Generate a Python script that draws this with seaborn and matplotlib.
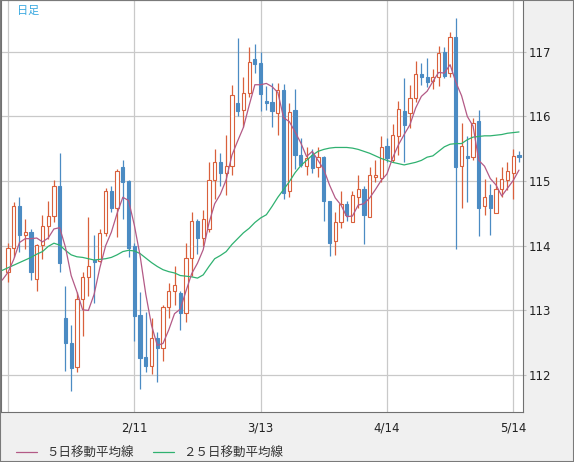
import matplotlib.pyplot as plt
import numpy as np
import pandas as pd
import seaborn as sns
from matplotlib.lines import Line2D
from matplotlib.patches import Rectangle

# daily candles, oldest first (prices)
opens = [113.60, 113.97, 114.62, 114.16, 114.22, 113.49, 114.01, 114.30, 114.46, 114.92,
         112.88, 112.50, 112.13, 113.18, 113.52, 113.78, 113.76, 114.19, 114.85, 114.58,
         115.22, 115.00, 113.99, 112.93, 112.28, 112.14, 112.57, 112.42, 113.05, 113.30,
         113.27, 112.96, 113.81, 114.38, 114.12, 114.26, 115.01, 115.30, 115.13, 115.24,
         116.20, 116.10, 116.36, 116.89, 116.83, 116.24, 116.23, 116.06, 116.41, 114.84,
         116.10, 115.41, 115.24, 115.41, 115.22, 115.38, 114.70, 114.07, 114.36, 114.65,
         114.36, 114.76, 114.88, 114.45, 115.07, 115.05, 115.55, 115.32, 115.69, 116.09,
         116.06, 116.29, 116.66, 116.61, 116.55, 116.61, 117.00, 116.67, 117.23, 115.24,
         115.39, 115.38, 115.93, 114.61, 114.79, 114.50, 114.88, 115.01, 115.13, 115.41]
highs = [114.04, 114.67, 114.76, 114.41, 114.26, 114.02, 114.48, 114.70, 115.01, 115.44,
         113.38, 112.77, 113.28, 113.59, 114.45, 114.16, 114.26, 114.90, 114.92, 115.19,
         115.32, 115.02, 114.05, 113.28, 112.97, 112.88, 112.67, 113.08, 113.42, 113.68,
         113.30, 114.05, 114.52, 114.41, 114.55, 115.29, 115.50, 115.44, 115.72, 116.49,
         117.21, 116.61, 117.07, 117.12, 117.00, 116.47, 116.52, 116.52, 116.50, 116.21,
         116.43, 115.66, 115.52, 115.49, 115.52, 115.39, 114.70, 114.52, 114.84, 114.70,
         114.84, 115.09, 114.92, 115.22, 115.32, 115.69, 115.66, 115.89, 116.24, 116.60,
         116.49, 116.86, 116.83, 116.90, 116.73, 117.09, 117.07, 117.30, 117.52, 115.90,
         115.70, 115.98, 116.10, 115.04, 114.95, 115.07, 115.22, 115.30, 115.50, 115.47]
lows = [113.44, 113.82, 113.90, 113.95, 113.47, 113.30, 113.79, 114.10, 114.37, 113.60,
        112.07, 111.76, 112.05, 112.61, 113.22, 113.11, 113.75, 114.15, 114.52, 114.13,
        114.42, 113.82, 112.53, 111.79, 112.05, 112.02, 111.90, 112.22, 112.88, 113.08,
        112.70, 112.82, 113.53, 113.87, 113.99, 114.21, 114.72, 114.92, 114.79, 115.09,
        116.00, 115.84, 116.30, 116.67, 116.09, 116.10, 115.84, 115.72, 114.72, 114.76,
        115.18, 115.22, 115.10, 115.13, 115.07, 114.39, 113.84, 113.85, 114.28, 114.39,
        114.36, 114.59, 114.02, 114.45, 114.98, 114.98, 115.29, 115.29, 115.41, 115.30,
        115.82, 116.23, 116.49, 116.46, 116.43, 116.47, 116.60, 116.61, 113.95, 114.59,
        114.68, 115.32, 114.15, 114.48, 114.16, 114.50, 114.75, 114.87, 114.73, 115.30]
closes = [113.97, 114.61, 114.16, 114.22, 113.59, 114.01, 114.30, 114.46, 114.92, 113.73,
          112.50, 112.11, 113.18, 113.52, 113.68, 113.75, 114.19, 114.85, 114.58, 115.15,
          114.98, 113.96, 112.91, 112.27, 112.14, 112.57, 112.42, 113.05, 113.30, 113.39,
          112.96, 113.81, 114.38, 114.12, 114.42, 115.01, 115.30, 115.13, 115.24, 116.33,
          116.09, 116.36, 116.84, 116.81, 116.35, 116.21, 116.09, 116.41, 114.82, 116.07,
          115.41, 115.25, 115.36, 115.21, 115.38, 114.70, 114.05, 114.36, 114.65, 114.47,
          114.79, 114.88, 114.47, 115.09, 115.10, 115.53, 115.35, 115.72, 116.12, 115.87,
          116.29, 116.66, 116.61, 116.53, 116.61, 116.98, 116.63, 117.23, 115.22, 115.55,
          115.36, 115.90, 114.59, 114.76, 114.59, 114.88, 115.04, 115.16, 115.39, 115.38]

# moving averages, first value = session before the first visible candle
ma5 = [113.47, 113.59, 113.79, 114.05, 114.11, 114.11, 114.12, 114.06, 114.12, 114.26,
       114.28, 113.98, 113.54, 113.29, 113.01, 113.00, 113.25, 113.66, 114.00, 114.21,
       114.50, 114.75, 114.70, 114.32, 113.85, 113.25, 112.77, 112.46, 112.49, 112.70,
       112.95, 113.02, 113.30, 113.57, 113.73, 113.94, 114.35, 114.65, 114.80, 115.02,
       115.40, 115.62, 115.83, 116.17, 116.49, 116.49, 116.51, 116.46, 116.37, 115.98,
       115.92, 115.76, 115.59, 115.38, 115.46, 115.32, 115.18, 114.94, 114.74, 114.63,
       114.45, 114.46, 114.63, 114.65, 114.74, 114.87, 115.01, 115.11, 115.36, 115.56,
       115.72, 115.87, 116.13, 116.31, 116.39, 116.54, 116.68, 116.67, 116.80, 116.53,
       116.32, 116.00, 115.85, 115.32, 115.23, 115.04, 114.94, 114.77, 114.89, 115.01,
       115.17]
ma25 = [113.62, 113.66, 113.70, 113.74, 113.78, 113.82, 113.87, 113.91, 113.99, 114.04,
        114.01, 113.93, 113.86, 113.83, 113.82, 113.80, 113.78, 113.79, 113.80, 113.82,
        113.86, 113.91, 113.93, 113.92, 113.88, 113.81, 113.74, 113.68, 113.63, 113.60,
        113.58, 113.54, 113.53, 113.52, 113.50, 113.55, 113.68, 113.80, 113.85, 113.91,
        114.02, 114.11, 114.20, 114.27, 114.36, 114.43, 114.48, 114.61, 114.75, 114.87,
        114.99, 115.13, 115.24, 115.32, 115.40, 115.46, 115.49, 115.51, 115.52, 115.52,
        115.52, 115.51, 115.49, 115.46, 115.43, 115.39, 115.35, 115.32, 115.29, 115.27,
        115.25, 115.27, 115.29, 115.32, 115.37, 115.39, 115.46, 115.53, 115.57, 115.58,
        115.58, 115.64, 115.68, 115.69, 115.70, 115.70, 115.71, 115.72, 115.74, 115.75,
        115.76]

tick_days = [0, 22, 44, 66, 88]
tick_labels = ['', '2/11', '3/13', '4/14', '5/14']
price_ticks = [112, 113, 114, 115, 116, 117]
legend_labels = ['５日移動平均線', '２５日移動平均線']

UP = '#d9603c'
DOWN = '#4b8bc3'
MA5_COLOR = '#b35a86'
MA25_COLOR = '#2fb170'


def draw_chart(out='out.png'):
    sns.set_style('white')
    plt.rcParams['font.family'] = ['DejaVu Sans', 'Noto Sans CJK JP']

    df = pd.DataFrame({'open': opens, 'high': highs, 'low': lows, 'close': closes})
    df['day'] = np.arange(len(df))
    up = (df['close'] >= df['open']).values

    ma = pd.DataFrame({'day': np.arange(-1, len(df)), 'ma5': ma5, 'ma25': ma25})

    fig = plt.figure(figsize=(5.74, 4.62), dpi=100, facecolor='#f0f0f0')
    ax = fig.add_axes([1 / 574, 50 / 462, 522 / 574, 412 / 462])
    ax.set_facecolor('white')

    # wicks, then bodies (hollow for up days)
    ax.vlines(df['day'], df['low'], df['high'], colors=np.where(up, UP, DOWN), lw=0.9, zorder=2)
    body_low = df[['open', 'close']].min(axis=1)
    body_h = (df['close'] - df['open']).abs().clip(lower=0.015)
    ax.bar(df['day'], body_h, bottom=body_low, width=0.56,
           color=np.where(up, 'white', DOWN), edgecolor=np.where(up, UP, DOWN),
           lw=0.8, zorder=3)

    sns.lineplot(data=ma, x='day', y='ma25', color=MA25_COLOR, lw=0.9, ax=ax, zorder=4)
    sns.lineplot(data=ma, x='day', y='ma5', color=MA5_COLOR, lw=0.9, ax=ax, zorder=4)

    ax.set_xlim(-1.22, 89.7)
    ax.set_ylim(111.43, 117.80)
    ax.set_xlabel('')
    ax.set_ylabel('')

    ax.set_xticks(tick_days)
    ax.set_xticklabels(tick_labels)
    ax.set_yticks(price_ticks)
    ax.yaxis.tick_right()
    ax.tick_params(axis='x', length=0, pad=7, labelsize=8.5, labelcolor='#222222')
    ax.tick_params(axis='y', length=2.5, width=0.8, color='#c0c0c0', pad=1.5,
                   labelsize=8.5, labelcolor='#222222')
    ax.grid(True, color='#c9c9c9', lw=0.9)
    ax.set_axisbelow(True)
    for s in ax.spines.values():
        s.set_color('#707070')
        s.set_linewidth(0.8)

    fig.text(17 / 574, 1 - 11 / 462, '日足', color='#38a8e0', fontsize=8,
             va='center', ha='left', family=['Noto Sans CJK JP'])

    handles = [Line2D([], [], color=MA5_COLOR, lw=0.9), Line2D([], [], color=MA25_COLOR, lw=0.9)]
    leg = fig.legend(handles, legend_labels, loc='center left', bbox_to_anchor=(16 / 574, 1 - 453 / 462),
                     ncol=2, frameon=False, prop={'family': ['Noto Sans CJK JP'], 'size': 9},
                     handlelength=1.65, handletextpad=0.75, columnspacing=1.55,
                     borderpad=0, borderaxespad=0)
    for t in leg.get_texts():
        t.set_color('#333333')

    fig.patches.append(Rectangle((0, 0), 1, 1, transform=fig.transFigure, fill=False,
                                 ec='#7a7a7a', lw=1.5))
    fig.savefig(out, dpi=100, facecolor=fig.get_facecolor())


if __name__ == '__main__':
    draw_chart()
